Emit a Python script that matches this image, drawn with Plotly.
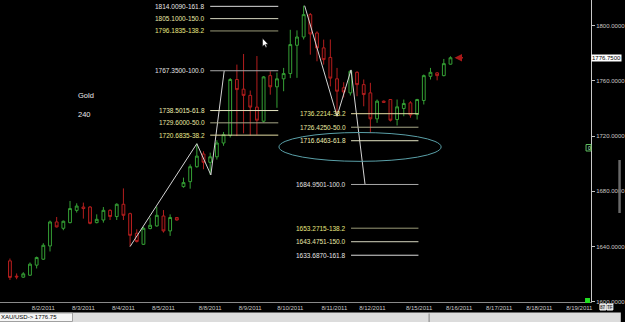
import plotly.graph_objects as go

# ---------------- data ----------------
candle_idx = list(range(1, 68))
opens = [1629.6, 1618.5, 1617.8, 1619.2, 1626.5, 1630.8, 1640.4, 1657.8, 1653.2, 1657.3,
         1666.2, 1668.6, 1668.6, 1657.3, 1659.2, 1666.2, 1661.7, 1670.6, 1663.8, 1649.6,
         1641.6, 1653.0, 1654.9, 1662.1, 1651.3, 1661.0, 1683.4, 1687.0, 1697.8, 1707.0,
         1701.0, 1705.0, 1715.0, 1720.5, 1761.0, 1754.0, 1749.5, 1741.0, 1730.8, 1763.8,
         1755.7, 1761.5, 1765.3, 1785.8, 1791.8, 1808.0, 1794.7, 1783.9, 1777.0, 1761.5,
         1755.0, 1751.3, 1766.2, 1757.3, 1751.3, 1732.5, 1745.3, 1746.5, 1732.0, 1740.0,
         1744.1, 1735.6, 1745.8, 1763.3, 1765.8, 1763.8, 1772.1]
highs = [1631.3, 1620.5, 1621.4, 1628.4, 1632.7, 1642.4, 1658.8, 1661.4, 1658.8, 1673.0,
         1671.3, 1671.8, 1669.3, 1663.3, 1668.6, 1667.0, 1671.3, 1682.1, 1664.5, 1652.5,
         1654.2, 1661.0, 1668.9, 1666.4, 1663.3, 1661.4, 1689.9, 1699.5, 1714.5, 1709.0,
         1708.0, 1717.0, 1723.0, 1762.0, 1771.8, 1779.5, 1753.0, 1778.0, 1763.5, 1767.0,
         1766.0, 1769.4, 1797.0, 1796.6, 1814.5, 1809.2, 1795.9, 1789.9, 1790.0, 1769.4,
         1759.0, 1767.9, 1767.0, 1761.0, 1758.6, 1746.5, 1745.8, 1746.5, 1746.5, 1746.5,
         1745.3, 1747.0, 1764.6, 1769.4, 1766.4, 1775.9, 1777.8]
lows = [1615.8, 1616.3, 1617.3, 1618.7, 1624.1, 1630.3, 1636.4, 1653.8, 1651.8, 1656.8,
        1664.6, 1660.2, 1656.1, 1656.8, 1657.3, 1659.2, 1659.2, 1659.2, 1640.0, 1642.9,
        1641.1, 1652.5, 1654.4, 1650.1, 1647.7, 1658.8, 1682.6, 1681.9, 1697.1, 1696.0,
        1691.85, 1703.0, 1713.0, 1719.0, 1720.0, 1722.0, 1720.5, 1721.0, 1729.9, 1750.0,
        1740.5, 1752.5, 1762.0, 1762.2, 1790.0, 1779.0, 1774.2, 1771.8, 1756.0, 1734.4,
        1748.0, 1749.4, 1748.9, 1741.6, 1722.4, 1729.6, 1744.0, 1730.6, 1727.7, 1734.4,
        1733.3, 1732.0, 1742.9, 1761.0, 1760.4, 1763.3, 1771.8]
closes = [1617.6, 1618.0, 1620.2, 1627.2, 1632.0, 1640.9, 1657.8, 1654.2, 1658.3, 1667.5,
          1669.3, 1667.5, 1656.8, 1659.7, 1666.2, 1661.7, 1670.6, 1662.6, 1648.1, 1643.6,
          1653.2, 1655.4, 1662.6, 1651.3, 1661.0, 1659.2, 1686.3, 1697.8, 1705.5, 1701.0,
          1705.0, 1715.0, 1721.0, 1761.0, 1753.7, 1749.5, 1741.0, 1731.5, 1762.9, 1755.7,
          1761.5, 1765.3, 1786.3, 1791.8, 1808.0, 1794.0, 1783.9, 1775.4, 1762.0, 1752.5,
          1752.0, 1767.0, 1757.3, 1750.1, 1732.5, 1745.3, 1744.5, 1731.5, 1741.2, 1743.6,
          1735.3, 1746.5, 1763.8, 1766.2, 1763.8, 1772.5, 1776.75]

date_pos = [6, 12, 18, 24, 31, 37, 43, 49.6, 55.3, 62.3, 68.3, 74.3, 80.3, 86.3]
date_labels = ["8/2/2011", "8/3/2011", "8/4/2011", "8/5/2011", "8/8/2011", "8/9/2011",
               "8/10/2011", "8/11/2011", "8/12/2011", "8/15/2011", "8/16/2011",
               "8/17/2011", "8/18/2011", "8/19/2011"]

price_ticks = [1600, 1640, 1680, 1720, 1760, 1800]
last_price = 1776.75
symbol = "XAU/USD"
chart_title = "Gold"
chart_period = "240"

fib_left_levels = [1814.0090, 1805.1000, 1796.1835, 1767.3500, 1738.5015, 1729.6000, 1720.6835]
fib_left_ratios = [161.8, 150.0, 138.2, 100.0, 61.8, 50.0, 38.2]
fib_right_levels = [1736.2214, 1726.4250, 1716.6463, 1684.9501, 1653.2715, 1643.4751, 1633.6870]
fib_right_ratios = [38.2, 50.0, 61.8, 100.0, 138.2, 150.0, 161.8]

proj_left_x = [19.0, 29.0, 31.1, 33.1]
proj_left_y = [1640.0, 1714.5, 1691.85, 1767.35]
proj_right_x = [45.15, 50.0, 52.1, 54.2]
proj_right_y = [1814.5, 1734.4, 1767.94, 1684.95]

# ---------------- styles ----------------
FONT = "Liberation Sans, Arial, sans-serif"
line_col = {38.2: "#e4dca4", 50.0: "#a8a888", 61.8: "#e6e6c4", 100.0: "#a8a8a8",
            138.2: "#9a9a78", 150.0: "#d6d6c0", 161.8: "#dcdcdc"}
lab_col = {38.2: "#e8e88c", 50.0: "#e8e8a0", 61.8: "#eeeeb0", 100.0: "#e0e0e0",
           138.2: "#e8e880", 150.0: "#e8e8a8", 161.8: "#e6e6e6"}

W_PLOT, H_PLOT = 595, 302
def px(x):
    return x / W_PLOT
def py(y):
    return (H_PLOT - y) / H_PLOT

fig = go.Figure()

fig.add_trace(go.Candlestick(
    x=candle_idx, open=opens, high=highs, low=lows, close=closes,
    increasing=dict(line=dict(color="#35a035", width=1), fillcolor="#000000"),
    decreasing=dict(line=dict(color="#b41e1e", width=1), fillcolor="#140000"),
    whiskerwidth=0, hoverinfo="skip", showlegend=False,
))

for xs, ys in ((proj_left_x, proj_left_y), (proj_right_x, proj_right_y)):
    fig.add_trace(go.Scatter(x=xs, y=ys, mode="lines",
                             line=dict(color="#d4d4d4", width=1),
                             hoverinfo="skip", showlegend=False))

shapes = []
annotations = []

def add_fib(levels, ratios, x0, x1, xlab):
    for lv, r in zip(levels, ratios):
        shapes.append(dict(type="line", xref="x", yref="y", x0=x0, x1=x1, y0=lv, y1=lv,
                           line=dict(color=line_col[r], width=1)))
        annotations.append(dict(xref="x", yref="y", x=xlab, y=lv, xanchor="right",
                                yanchor="middle", showarrow=False,
                                text=f"{lv:.4f}-{r:.1f}",
                                font=dict(family=FONT, size=6.5, color=lab_col[r])))

add_fib(fib_left_levels, fib_left_ratios, 31.0, 41.2, 30.5)
add_fib(fib_right_levels, fib_right_ratios, 52.1, 62.2, 51.6)

# ellipse
shapes.append(dict(type="circle", xref="x", yref="y", x0=41.3, x1=65.6,
                   y0=1701.7, y1=1722.6, line=dict(color="#5aa0a8", width=1)))

# status bar
shapes.append(dict(type="rect", xref="paper", yref="paper", x0=0, x1=px(625),
                   y0=py(322), y1=py(312.5), fillcolor="#dcdcdc", line=dict(width=0),
                   layer="above"))
shapes.append(dict(type="rect", xref="paper", yref="paper", x0=px(-1), x1=px(73),
                   y0=py(321.5), y1=py(313), fillcolor="#f6f6f6",
                   line=dict(color="#a0a0a0", width=1), layer="above"))
shapes.append(dict(type="line", xref="paper", yref="paper", x0=px(432), x1=px(432),
                   y0=py(322), y1=py(313.5), line=dict(color="#808080", width=1),
                   layer="above"))
# misc UI pieces
shapes.append(dict(type="rect", xref="paper", yref="paper", x0=px(589), x1=px(594),
                   y0=py(303), y1=py(298), fillcolor="#22dd22", line=dict(width=0)))
shapes.append(dict(type="rect", xref="paper", yref="paper", x0=px(590), x1=px(595),
                   y0=py(151), y1=py(144.5), fillcolor="#000000",
                   line=dict(color="#60c060", width=1)))
shapes.append(dict(type="rect", xref="paper", yref="paper", x0=px(622.5), x1=px(625),
                   y0=py(213), y1=py(160), fillcolor="#6a6a6a", line=dict(width=0)))
shapes.append(dict(type="rect", xref="paper", yref="paper", x0=px(604), x1=px(610),
                   y0=py(310), y1=py(304), fillcolor="#c8c8c8",
                   line=dict(color="#ffffff", width=1)))
shapes.append(dict(type="rect", xref="paper", yref="paper", x0=px(611), x1=px(617),
                   y0=py(310), y1=py(304), fillcolor="#c8c8c8",
                   line=dict(color="#ffffff", width=1)))
# mouse cursor
cur = [(264.3, 38.3), (264.3, 46.5), (266.2, 44.8), (267.6, 47.6), (268.8, 47.0),
       (267.5, 44.3), (270.0, 44.3)]
path = "M " + " L ".join(f"{px(a):.5f},{py(b):.5f}" for a, b in cur) + " Z"
shapes.append(dict(type="path", xref="paper", yref="paper", path=path,
                   fillcolor="#ffffff", line=dict(color="#000000", width=0.5)))

# texts
annotations.append(dict(xref="paper", yref="paper", x=px(76.5), y=py(96), xanchor="left",
                        yanchor="middle", showarrow=False, text=chart_title,
                        font=dict(family=FONT, size=7.5, color="#e8e8e8")))
annotations.append(dict(xref="paper", yref="paper", x=px(76.5), y=py(114), xanchor="left",
                        yanchor="middle", showarrow=False, text=chart_period,
                        font=dict(family=FONT, size=7.5, color="#e8e8e8")))
annotations.append(dict(xref="paper", yref="y", x=1.0, y=last_price, xanchor="left",
                        yanchor="middle", showarrow=False, text=f"{last_price:.4f}",
                        bgcolor="#ffffff", borderpad=0,
                        font=dict(family=FONT, size=6, color="#000000")))
annotations.append(dict(xref="paper", yref="paper", x=px(-1.5), y=py(317), xanchor="left",
                        yanchor="middle", showarrow=False,
                        text=f"{symbol}-> {last_price:.2f}",
                        font=dict(family=FONT, size=6, color="#000000")))
annotations.append(dict(xref="paper", yref="paper", x=px(590), y=py(147.8), xanchor="left",
                        yanchor="middle", showarrow=False, text="0",
                        font=dict(family=FONT, size=5, color="#c0ffc0")))
annotations.append(dict(xref="paper", yref="paper", x=px(607), y=py(307), xanchor="center",
                        yanchor="middle", showarrow=False, text="87",
                        font=dict(family=FONT, size=4.5, color="#202020")))
annotations.append(dict(xref="paper", yref="paper", x=px(614), y=py(307), xanchor="center",
                        yanchor="middle", showarrow=False, text="TF",
                        font=dict(family=FONT, size=4.5, color="#202020")))
# red arrow at last candle
annotations.append(dict(xref="x", yref="y", x=candle_idx[-1] + 0.6, y=last_price,
                        ax=10, ay=0, showarrow=True, arrowhead=2, arrowsize=1,
                        arrowwidth=1.5, arrowcolor="#a81818", text=""))

fig.update_layout(
    width=625, height=322,
    margin=dict(l=0, r=30, t=0, b=20),
    paper_bgcolor="#000000", plot_bgcolor="#000000",
    showlegend=False, boxgap=0.4,
    shapes=shapes, annotations=annotations,
    xaxis=dict(range=[-0.49, 88.05], rangeslider=dict(visible=False),
               showgrid=False, zeroline=False, tickvals=date_pos, ticktext=date_labels,
               tickfont=dict(family=FONT, size=6, color="#c8c8c8"), ticks="",
               showline=True, linecolor="#8a8a8a", linewidth=1),
    yaxis=dict(range=[1599.8, 1818.6], side="right", showgrid=False, zeroline=False,
               tickvals=price_ticks, ticktext=[f"{v:.4f}" for v in price_ticks],
               tickfont=dict(family=FONT, size=6, color="#c8c8c8"),
               ticks="outside", ticklen=3, tickcolor="#c0c0c0",
               showline=True, linecolor="#c8c8c8", linewidth=1),
)

fig.write_html("out.html", config={"displayModeBar": False})
